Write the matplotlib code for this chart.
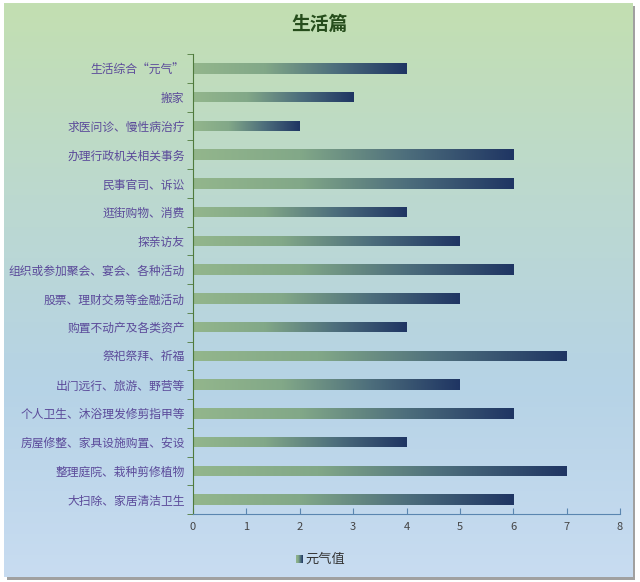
import numpy as np
import matplotlib
matplotlib.use("Agg")
import matplotlib.pyplot as plt
from matplotlib.colors import LinearSegmentedColormap
from matplotlib.patches import Rectangle

plt.rcParams['font.family'] = ['Noto Sans CJK SC', 'DejaVu Sans']

# ---- data (top to bottom as shown) ----
categories = [
    "生活综合“元气”", "搬家", "求医问诊、慢性病治疗", "办理行政机关相关事务",
    "民事官司、诉讼", "逛街购物、消费", "探亲访友", "组织或参加聚会、宴会、各种活动",
    "股票、理财交易等金融活动", "购置不动产及各类资产", "祭祀祭拜、祈福",
    "出门远行、旅游、野营等", "个人卫生、沐浴理发修剪指甲等", "房屋修整、家具设施购置、安设",
    "整理庭院、栽种剪修植物", "大扫除、家居清洁卫生",
]
values = [4, 3, 2, 6, 6, 4, 5, 6, 5, 4, 7, 5, 6, 4, 7, 6]
series_name = "元气值"
title = "生活篇"

bar_cmap = LinearSegmentedColormap.from_list("bar", ["#93b68c", "#82a888", "#4d6e7c", "#1f3563"])
bg_cmap = LinearSegmentedColormap.from_list("bg", ["#c3dfb1", "#bcd9cf", "#b6d3e6", "#c8dcf1"])

fig = plt.figure(figsize=(6.4, 5.82), dpi=100)
fig.patch.set_facecolor("white")

# chart area background with shadow (pixel coordinates)
bgax = fig.add_axes([0, 0, 1, 1], zorder=0)
bgax.set_axis_off()
bgax.add_patch(Rectangle((7, 6), 628, 574, facecolor="#a0a0a0", edgecolor="none", zorder=0))
bgax.imshow(np.linspace(0, 1, 256).reshape(-1, 1), aspect="auto", cmap=bg_cmap,
            extent=[4, 633, 577, 3], zorder=1)
bgax.set_xlim(0, 640)
bgax.set_ylim(582, 0)

ax = fig.add_axes([193 / 640, 1 - 514 / 582, 427 / 640, 460 / 582], zorder=1)
ax.patch.set_alpha(0)

y = np.arange(len(categories))
bars = ax.barh(y, values, height=0.36, color="none", edgecolor="none")
grad = np.linspace(0, 1, 256).reshape(1, -1)
for b in bars:
    x0, y0 = b.get_x(), b.get_y()
    w, h = b.get_width(), b.get_height()
    im = ax.imshow(grad, aspect="auto", cmap=bar_cmap,
                   extent=[x0, x0 + w, y0, y0 + h], zorder=2)
    im.set_clip_path(b)

ax.set_xlim(0, 8)
ax.set_ylim(len(categories) - 0.5, -0.5)
ax.set_yticks(y)
ax.set_yticklabels(categories, fontsize=8.5, color="#5b4a9a")
ax.set_yticks(np.arange(-0.5, len(categories), 1), minor=True)
ax.tick_params(axis="y", which="major", length=0, pad=6)
ax.tick_params(axis="y", which="minor", length=4, color="#4f7a3c", direction="out")
ax.set_xticks(range(0, 9))
ax.tick_params(axis="x", length=4, direction="in", color="#5a86b0", labelsize=8,
               labelcolor="#444444", pad=6)

for s in ["top", "right"]:
    ax.spines[s].set_visible(False)
ax.spines["left"].set_color("#4f7a3c")
ax.spines["bottom"].set_color("#5a86b0")

fig.text(0.5, 1 - 24 / 582, title, ha="center", va="center", fontsize=13.5,
         fontweight="bold", color="#264d1c")

# legend
lax = fig.add_axes([296 / 640, 1 - 563 / 582, 7 / 640, 8 / 582], zorder=2)
lax.imshow(grad, aspect="auto", cmap=bar_cmap, extent=[0, 1, 0, 1])
lax.set_axis_off()
fig.text(305 / 640, 1 - 559 / 582, series_name, ha="left", va="center",
         fontsize=9.5, color="#333333")

fig.savefig("out.png", dpi=100)
